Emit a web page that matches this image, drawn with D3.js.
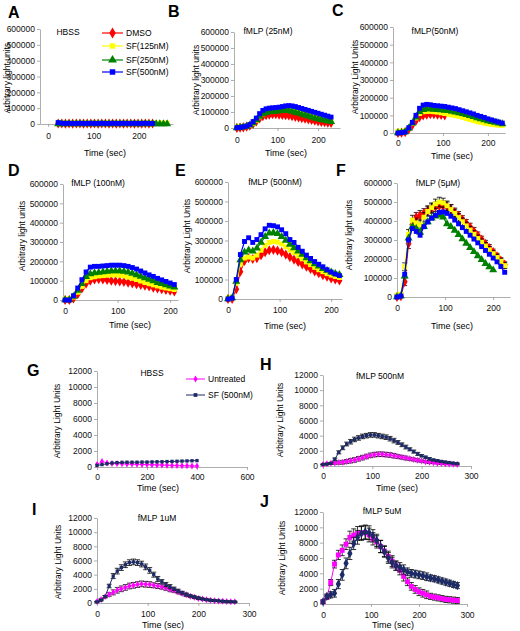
<!DOCTYPE html>
<html>
<head>
<meta charset="utf-8">
<script src="https://cdn.jsdelivr.net/npm/d3@7"></script>
<style>
body { margin: 0; background: #fff; }
svg { font-family: "Liberation Sans", Arial, sans-serif; }
</style>
</head>
<body>
<svg id="fig" width="520" height="631"></svg>
<script>
// series names / colours
const topNames = ["DMSO", "SF(125nM)", "SF(250nM)", "SF(500nM)"];
const topColors = ["#ff0000", "#ffff00", "#008000", "#0000ff"];
const botNames = ["Untreated", "SF (500nM)"];
const botColors = ["#ff00ff", "#1c2a66"];

const topYTicks = [0, 100000, 200000, 300000, 400000, 500000, 600000];
const botYTicks = [0, 2000, 4000, 6000, 8000, 10000, 12000];

// time points (sec)
const tA = [22,30,38,46,54,62,70,78,86,94,102,110,118,126,134,142,150,158,166,174,182,190,198,206,214,222,230,238,246,254,262];
const tTop = [0,8,16,24,32,40,48,56,64,72,80,88,96,104,112,120,128,136,144,152,160,168,176,184,192,200,208,216,224,232];
const tG = [0,20,40,60,80,100,120,140,160,180,200,220,240,260,280,300,320,340,360,380,400];
const tBot = [0,8,16,24,32,40,48,56,64,72,80,88,96,104,112,120,128,136,144,152,160,168,176,184,192,200,208,216,224,232,240,248,256,264,272];
const tJ = [0,8,16,24,32,40,48,56,64,72,80,88,96,104,112,120,128,136,144,152,160,168,176,184,192,200,208,216,224,232,240,248,256,264,272,280];

// A: HBSS
const dmsoA = [3000,3000,2000,3000,2000,3000,3000,2000,3000,2000,3000,2000,3000,3000,2000,3000,2000,3000,2000,3000,3000,2000,3000,2000,3000,2000,3000];
const sf125A = [6000,5000,6000,5000,6000,5000,6000,6000,5000,6000,5000,6000,5000,6000,6000,5000,6000,5000,6000,5000,6000,6000,5000,6000,5000,6000,5000,6000,6000,5000,6000];
const sf250A = [1000,1000,0,1000,0,1000,1000,0,1000,0,1000,0,1000,1000,0,1000,0,1000,0,1000,1000,0,1000,0,1000,0,1000,1000,0,1000,0];
const sf500A = [9000,5000,4000,5000,4000,4000,5000,4000,4000,5000,4000,4000,5000,4000,4000,5000,4000,4000,5000,4000,4000,5000,4000,4000,5000,4000,4000];

// B: fMLP 25nM
const dmsoB = [0,2000,4000,8000,14000,26000,42000,60000,74000,80000,84000,86000,86000,84000,82000,80000,78000,74000,70000,66000,62000,58000,54000,50000,46000,42000,38000,36000,34000,32000];
const sf125B = [6000,7000,9000,12000,18000,30000,48000,70000,88000,98000,104000,108000,112000,114000,116000,118000,116000,112000,106000,100000,94000,88000,82000,76000,70000,64000,58000,54000,50000,46000];
const sf250B = [1000,3000,6000,10000,18000,32000,50000,72000,88000,96000,100000,102000,104000,106000,108000,110000,108000,104000,98000,92000,86000,80000,74000,68000,62000,56000,52000,48000,44000,40000];
const sf500B = [2000,4000,8000,12000,22000,40000,62000,90000,110000,120000,124000,126000,128000,130000,134000,138000,140000,138000,134000,128000,122000,116000,110000,104000,98000,92000,86000,80000,74000,68000];

// C: fMLP 50nM
const dmsoC = [0,2000,5000,22000,45000,70000,90000,100000,104000,106000,106000,104000,102000,100000];
const sf125C = [10000,10000,12000,28000,55000,85000,110000,120000,122000,122000,120000,118000,114000,110000,106000,102000,98000,94000,88000,82000,76000,70000,64000,60000,56000,52000,48000,46000,44000,42000];
const sf250C = [0,2000,6000,26000,55000,90000,120000,132000,136000,136000,134000,132000,130000,128000,126000,122000,118000,114000,110000,104000,98000,92000,86000,80000,74000,68000,64000,60000,56000,52000];
const sf500C = [0,2000,6000,30000,60000,100000,140000,158000,162000,160000,156000,154000,152000,150000,146000,142000,138000,132000,126000,120000,114000,108000,100000,94000,88000,80000,74000,68000,62000,56000];

// D: fMLP 100nM
const dmsoD = [0,0,8000,30000,60000,85000,100000,106000,108000,106000,104000,100000,98000,96000,94000,90000,86000,82000,78000,74000,70000,64000,60000,56000,52000,48000,44000];
const sf125D = [5000,6000,15000,40000,70000,100000,115000,120000,124000,126000,128000,130000,130000,128000,124000,118000,112000,106000,98000,90000,84000,78000,72000,66000,62000,58000,54000];
const sf250D = [0,0,18000,50000,85000,120000,135000,140000,142000,145000,148000,150000,150000,150000,148000,144000,138000,130000,122000,114000,106000,98000,90000,84000,78000,72000,66000];
const sf500D = [0,0,22000,62000,105000,145000,170000,174000,174000,176000,178000,180000,180000,180000,178000,174000,168000,160000,150000,140000,130000,122000,112000,104000,96000,88000,80000];

// E: fMLP 500nM
const dmsoE = [0,0,50000,140000,195000,210000,205000,210000,225000,240000,250000,252000,248000,240000,228000,215000,202000,190000,178000,166000,154000,142000,132000,122000,114000,106000,100000,95000];
const sf125E = [5000,10000,80000,180000,210000,215000,210000,225000,250000,275000,290000,295000,292000,282000,268000,252000,238000,222000,206000,190000,176000,162000,150000,140000,130000,122000,115000,110000];
const sf250E = [0,5000,90000,200000,240000,250000,245000,260000,290000,320000,338000,340000,335000,320000,300000,280000,262000,245000,228000,210000,195000,180000,168000,156000,146000,138000,130000,125000];
const sf500E = [0,5000,100000,228000,295000,314000,290000,305000,330000,360000,378000,376000,370000,355000,335000,305000,290000,265000,245000,225000,208000,192000,178000,165000,150000,138000,128000,120000];

// F: fMLP 5uM
const dmsoF = [0,5000,80000,280000,380000,420000,430000,440000,455000,465000,475000,480000,480000,475000,462000,446000,428000,408000,388000,368000,346000,324000,302000,280000,258000,236000,214000,192000,170000];
const sf125F = [10000,15000,160000,330000,405000,390000,380000,420000,450000,470000,490000,500000,495000,480000,460000,440000,418000,396000,374000,352000,330000,308000,288000,268000,248000,228000,208000,188000,165000];
const sf250F = [0,5000,110000,310000,370000,360000,340000,370000,395000,415000,425000,430000,420000,385000,370000,350000,328000,305000,282000,260000,238000,216000,196000,176000,158000,142000];
const sf500F = [0,5000,120000,300000,360000,345000,325000,370000,395000,415000,430000,445000,448000,440000,425000,405000,385000,365000,345000,325000,305000,285000,265000,245000,225000,205000,185000,160000,130000];
const errF = [5000,5000,20000,25000,25000,25000,25000,25000,25000,25000,25000,25000,25000,25000,25000,22000,22000,20000,20000,20000,20000,18000,18000,18000,18000,16000,16000,15000,15000];

// G: HBSS
const untG = [300,700,500,450,420,400,380,360,340,320,300,280,260,240,220,200,180,160,150,130,120];
const sfG = [200,300,400,500,550,580,600,600,600,620,620,640,650,660,680,700,720,740,760,780,800];

// H: fMLP 500nM
const untH = [200,300,350,400,450,500,600,700,800,950,1100,1250,1400,1500,1550,1550,1500,1450,1350,1250,1150,1050,950,850,750,650,560,480,420,360,320,280,250,220,200];
const sfH = [200,250,350,900,1800,2400,2900,3200,3500,3700,3900,4000,4100,4100,4000,3900,3800,3600,3350,3100,2800,2500,2200,1900,1600,1350,1150,950,800,700,600,520,450,380,320];
const errH = [50,80,100,150,200,250,250,300,300,300,300,300,300,300,300,300,300,300,300,250,250,250,200,200,200,150,150,150,100,100,100,100,80,80,80];

// I: fMLP 1uM
const untI = [200,500,900,1200,1500,1800,2000,2200,2400,2500,2600,2700,2650,2600,2500,2400,2250,2100,1900,1750,1550,1350,1150,950,800,650,550,450,380,320,280,240,210,190,170];
const sfI = [150,400,900,2400,3800,4500,5000,5400,5700,5800,5700,5500,5100,4600,4000,3400,3000,2600,2300,2000,1700,1450,1200,1000,850,700,580,480,400,350,300,250,200,180,150];
const errI = [50,100,150,250,350,400,400,400,400,400,400,400,400,400,350,350,300,300,300,250,250,200,200,150,150,150,100,100,100,100,80,80,80,80,80];

// J: fMLP 5uM
const untJ = [300,900,2800,5200,6400,7000,7800,8700,9000,9200,9300,9300,9000,8500,8100,7500,6900,6200,5600,5000,4400,3600,2900,2300,1900,1600,1400,1200,1000,900,800,700,600,550,500,450];
const sfJ = [300,1000,1200,1400,2600,3800,5300,6600,7900,8700,9200,9400,9300,8900,8300,7500,6800,6000,5400,5000,4800,4500,4200,4000,3900,3800,3700,3550,3400,3300,3150,3000,2850,2700,2550,2400];
const errJ = [200,300,400,500,600,700,700,800,800,900,900,900,900,800,800,800,700,700,700,600,600,600,500,500,500,500,500,500,400,400,400,400,400,400,400,400];

const topSym = [d3.symbolDiamond, d3.symbolSquare, d3.symbolTriangle, d3.symbolSquare];
const topSize = [30, 24, 28, 24];

const svg = d3.select("#fig");

// panel layout
const panels = [
  { letter: "A", lp: [8, 18], title: "HBSS", tp: [68, 35], t: tA, data: [dmsoA, sf125A, sf250A, sf500A],
    xr: [40, 173], xDom: [-18, 275], xTicks: [0, 100, 200], yr: [124, 29], yDom: [0, 600000], yTicks: topYTicks,
    ylab: "Arbitrary light units", yl: [7, 78], time: [105, 156], xPad: 6 },
  { letter: "B", lp: [168, 17], title: "fMLP (25nM)", tp: [268, 34], t: tTop, data: [dmsoB, sf125B, sf250B, sf500B],
    xr: [234, 340], xDom: [-7, 254], xTicks: [0, 100, 200], yr: [128, 32], yDom: [0, 600000], yTicks: topYTicks,
    ylab: "Arbitrary light units", yl: [196, 80], time: [286, 156], xPad: 6 },
  { letter: "C", lp: [332, 16], title: "fMLP(50nM)", tp: [435, 34], t: tTop, data: [dmsoC, sf125C, sf250C, sf500C],
    xr: [393, 505], xDom: [-11, 238], xTicks: [0, 100, 200], yr: [133, 27], yDom: [0, 600000], yTicks: topYTicks,
    ylab: "Arbitrary Light Units", yl: [355, 77], time: [452, 159], xPad: 4 },
  { letter: "D", lp: [8, 176], title: "fMLP (100nM)", tp: [98, 186], t: tTop, data: [dmsoD, sf125D, sf250D, sf500D],
    xr: [63, 178], xDom: [-4, 215], xTicks: [0, 100, 200], yr: [300, 184], yDom: [0, 600000], yTicks: topYTicks,
    ylab: "Arbitrary light units", yl: [22, 236], time: [130, 328], xPad: 5 },
  { letter: "E", lp: [175, 176], title: "fMLP (500nM)", tp: [275, 185], t: tTop, data: [dmsoE, sf125E, sf250E, sf500E],
    xr: [228, 342], xDom: [0, 221], xTicks: [0, 100, 200], yr: [299, 182], yDom: [0, 600000], yTicks: topYTicks,
    ylab: "Arbitrary Light Units", yl: [187, 236], time: [285, 329], xPad: 5 },
  { letter: "F", lp: [336, 176], title: "fMLP (5\u03bcM)", tp: [438, 186], t: tTop, data: [dmsoF, sf125F, sf250F, sf500F],
    xr: [397, 510], xDom: [0, 235], xTicks: [0, 100, 200], yr: [297, 183], yDom: [0, 600000], yTicks: topYTicks,
    ylab: "Arbitrary light units", yl: [349, 235], time: [452, 329], xPad: 5, err: errF, errFor: [0, 1] },
  { letter: "G", lp: [27, 376], title: "HBSS", tp: [152, 376], t: tG, data: [untG, sfG], bottom: true,
    xr: [97, 247], xDom: [0, 600], xTicks: [0, 200, 400, 600], yr: [467, 371], yDom: [0, 12000], yTicks: botYTicks,
    ylab: "Arbitrary Light Units", yl: [57, 421], time: [158, 491], xPad: 4 },
  { letter: "H", lp: [260, 370], title: "fMLP 500nM", tp: [380, 379], t: tBot, data: [untH, sfH], bottom: true,
    xr: [323, 471], xDom: [0, 300], xTicks: [0, 100, 200, 300], yr: [466, 375], yDom: [0, 12000], yTicks: botYTicks,
    ylab: "Arbitrary Light Units", yl: [280, 420], time: [397, 491], xPad: 4, err: errH, errFor: [0, 1] },
  { letter: "I", lp: [32, 515], title: "fMLP 1uM", tp: [157, 521], t: tBot, data: [untI, sfI], bottom: true,
    xr: [97, 249], xDom: [0, 300], xTicks: [0, 100, 200, 300], yr: [603, 518], yDom: [0, 12000], yTicks: botYTicks,
    ylab: "Arbitrary Light Units", yl: [58, 562], time: [163, 628], xPad: 5, err: errI, errFor: [0, 1] },
  { letter: "J", lp: [260, 507], title: "fMLP 5uM", tp: [382, 514], t: tJ, data: [untJ, sfJ], bottom: true, big: true,
    xr: [323, 467], xDom: [0, 300], xTicks: [0, 100, 200, 300], yr: [604, 512], yDom: [0, 12000], yTicks: botYTicks,
    ylab: "Arbitrary Light Units", yl: [282, 558], time: [393, 628], xPad: 5, err: errJ, errFor: [0, 1] }
];

function drawPanel(p) {
  const g = svg.append("g");
  const x = d3.scaleLinear().domain(p.xDom).range(p.xr);
  const y = d3.scaleLinear().domain(p.yDom).range(p.yr);

  const yAxis = g.append("g")
    .attr("transform", `translate(${p.xr[0]},0)`)
    .call(d3.axisLeft(y).tickValues(p.yTicks).tickSize(3).tickSizeOuter(0).tickPadding(2).tickFormat(d3.format("d")));
  const xAxis = g.append("g")
    .attr("transform", `translate(0,${y(0)})`)
    .call(d3.axisBottom(x).tickValues(p.xTicks).tickSize(3).tickSizeOuter(0).tickPadding(p.xPad));
  [yAxis, xAxis].forEach(a => {
    a.selectAll("path, line").attr("stroke", "#999").attr("stroke-width", 0.8);
    a.selectAll("text").attr("font-size", 8.5).attr("fill", "#111");
  });

  // panel letter, title, axis titles
  g.append("text").attr("x", p.lp[0]).attr("y", p.lp[1])
    .attr("font-size", 16).attr("font-weight", "bold").text(p.letter);
  g.append("text").attr("x", p.tp[0]).attr("y", p.tp[1]).attr("text-anchor", "middle")
    .attr("font-size", 8.5).text(p.title);
  g.append("text").attr("x", p.time[0]).attr("y", p.time[1]).attr("text-anchor", "middle")
    .attr("font-size", 9).text("Time (sec)");
  g.append("text")
    .attr("transform", `translate(${p.yl[0]},${p.yl[1]}) rotate(-90)`)
    .attr("text-anchor", "middle").attr("dy", "0.35em")
    .attr("font-size", 8.5).text(p.ylab);

  const colors = p.bottom ? botColors : topColors;
  const line = d3.line().x(d => x(d[0])).y(d => y(d[1]));

  p.data.forEach((vals, i) => {
    const pts = vals.map((v, k) => [p.t[k], v]);
    let sym, size;
    if (p.bottom) {
      if (p.big) { sym = i === 0 ? d3.symbolSquare : d3.symbolDiamond; size = 24; }
      else { sym = i === 0 ? d3.symbolDiamond : d3.symbolSquare; size = i === 0 ? 14 : 11; }
    } else { sym = topSym[i]; size = topSize[i]; }

    if (p.err && p.errFor.includes(i)) {
      const eb = g.append("g").attr("stroke", "#000").attr("stroke-width", 0.8);
      pts.forEach((d, k) => {
        const e = p.err[k];
        const cx = x(d[0]);
        eb.append("line").attr("x1", cx).attr("x2", cx).attr("y1", y(d[1] - e)).attr("y2", y(d[1] + e));
        eb.append("line").attr("x1", cx - 2.5).attr("x2", cx + 2.5).attr("y1", y(d[1] + e)).attr("y2", y(d[1] + e));
        eb.append("line").attr("x1", cx - 2.5).attr("x2", cx + 2.5).attr("y1", y(d[1] - e)).attr("y2", y(d[1] - e));
      });
    }

    g.append("path").datum(pts)
      .attr("d", line).attr("fill", "none")
      .attr("stroke", colors[i]).attr("stroke-width", p.bottom ? 1 : 1.2);

    g.append("g").selectAll("path").data(pts).enter().append("path")
      .attr("transform", d => `translate(${x(d[0])},${y(d[1])})`)
      .attr("d", d3.symbol().type(sym).size(size))
      .attr("fill", colors[i]);
  });
}

panels.forEach(drawPanel);

// legend A
const legA = [33, 46, 60, 72];
topNames.forEach((n, i) => {
  const g = svg.append("g").attr("transform", `translate(102,${legA[i]})`);
  g.append("line").attr("x1", 0).attr("x2", 21).attr("stroke", topColors[i]).attr("stroke-width", 1.2);
  g.append("path").attr("transform", "translate(10.5,0)")
    .attr("d", d3.symbol().type(topSym[i]).size(topSize[i] + 6)).attr("fill", topColors[i]);
  g.append("text").attr("x", 24).attr("dy", "0.35em").attr("font-size", 8.5).text(n);
});

// legend G
const legG = [379, 395];
botNames.forEach((n, i) => {
  const g = svg.append("g").attr("transform", `translate(186,${legG[i]})`);
  g.append("line").attr("x1", 0).attr("x2", 19).attr("stroke", botColors[i]).attr("stroke-width", 1);
  g.append("path").attr("transform", "translate(9.5,0)")
    .attr("d", d3.symbol().type(i === 0 ? d3.symbolDiamond : d3.symbolSquare).size(14)).attr("fill", botColors[i]);
  g.append("text").attr("x", 22).attr("dy", "0.35em").attr("font-size", 8.5).text(n);
});
</script>
</body>
</html>
